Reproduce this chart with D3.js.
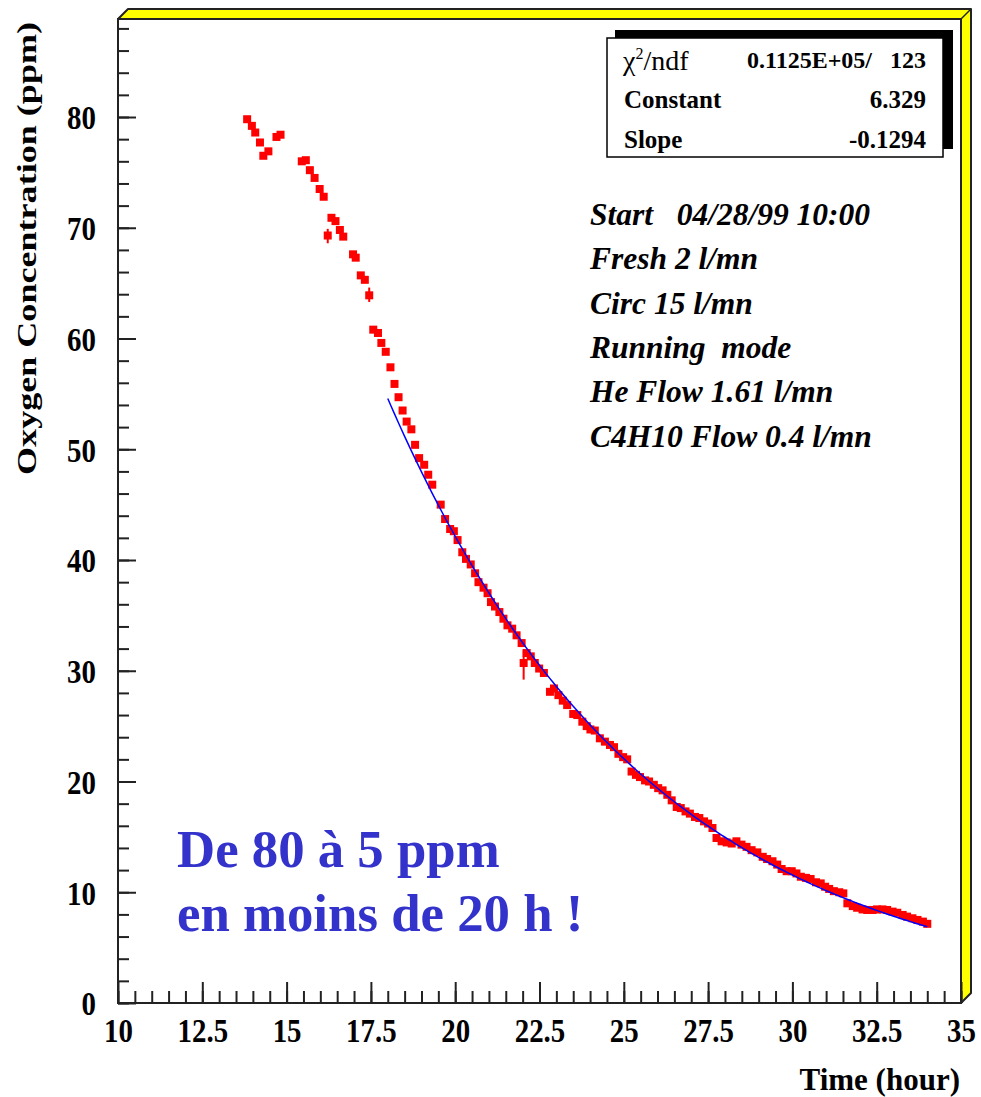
<!DOCTYPE html>
<html>
<head>
<meta charset="utf-8">
<script src="https://cdn.jsdelivr.net/npm/d3@7"></script>
<style>
  body { margin: 0; background: #fff; }
  svg text { font-family: "Liberation Serif", "Times New Roman", serif; }
</style>
</head>
<body>
<div id="chart"></div>
<script>
/*
Data
*/
var timeHours = [
  13.83, 13.97, 14.07, 14.21, 14.31, 14.46, 14.70, 14.82, 15.45, 15.57,
  15.69, 15.83, 15.98, 16.10, 16.22, 16.33, 16.45, 16.58, 16.68, 16.97,
  17.05, 17.20, 17.32, 17.45, 17.57, 17.71, 17.81, 17.94, 18.08, 18.20,
  18.32, 18.44, 18.56, 18.70, 18.81, 18.93, 19.08, 19.20, 19.32, 19.57,
  19.70, 19.85, 19.96, 20.07, 20.21, 20.32, 20.46, 20.59, 20.69, 20.84,
  20.96, 21.06, 21.18, 21.31, 21.43, 21.55, 21.69, 21.82, 21.97, 22.03,
  22.12, 22.24, 22.36, 22.49, 22.63, 22.81, 22.93, 23.06, 23.19, 23.32,
  23.50, 23.62, 23.77, 23.90, 24.01, 24.14, 24.29, 24.44, 24.59, 24.71,
  24.84, 24.98, 25.10, 25.23, 25.36, 25.48, 25.63, 25.75, 25.89, 26.02,
  26.15, 26.29, 26.42, 26.57, 26.69, 26.83, 26.96, 27.11, 27.24, 27.38,
  27.50, 27.63, 27.75, 27.90, 28.05, 28.20, 28.34, 28.49, 28.64, 28.79,
  28.96, 29.12, 29.25, 29.41, 29.55, 29.68, 29.83, 29.98, 30.12, 30.25,
  30.40, 30.54, 30.70, 30.84, 30.97, 31.09, 31.23, 31.39, 31.51, 31.63,
  31.79, 31.92, 32.08, 32.22, 32.38, 32.51, 32.67, 32.81, 32.97, 33.11,
  33.27, 33.40, 33.56, 33.71, 33.87, 34.00
];
var oxygenPpm = [
  79.8, 79.2, 78.6, 77.7, 76.5, 76.9, 78.2, 78.4, 76.0, 76.1,
  75.2, 74.5, 73.5, 72.8, 69.3, 70.9, 70.6, 69.8, 69.2, 67.6,
  67.3, 65.7, 65.3, 63.9, 60.8, 60.5, 59.6, 58.8, 57.4, 55.9,
  54.7, 53.5, 52.5, 51.8, 50.4, 49.2, 48.6, 47.7, 46.8, 45.0,
  43.7, 42.8, 42.6, 41.8, 40.7, 40.1, 39.6, 38.8, 38.0, 37.5,
  37.0, 36.2, 35.8, 35.3, 34.7, 34.1, 33.8, 33.2, 32.5, 30.7,
  31.6, 31.3, 30.7, 30.2, 29.8, 28.1, 28.4, 27.8, 27.3, 26.9,
  26.1, 26.0, 25.4, 25.0, 24.7, 24.6, 23.9, 23.6, 23.3, 23.1,
  22.5, 22.2, 22.0, 20.9, 20.6, 20.4, 20.1, 20.0, 19.7, 19.4,
  19.2, 18.8, 18.3, 17.7, 17.6, 17.3, 17.1, 16.8, 16.7, 16.4,
  16.2, 15.8, 14.9, 14.6, 14.5, 14.4, 14.6, 14.3, 14.1, 13.8,
  13.6, 13.2, 13.0, 12.8, 12.5, 12.1, 11.9, 11.9, 11.7, 11.4,
  11.3, 11.2, 10.9, 10.8, 10.5, 10.3, 10.1, 10.0, 9.9, 9.0,
  8.75, 8.6, 8.45, 8.4, 8.4, 8.45, 8.45, 8.4, 8.25, 8.15,
  7.95, 7.8, 7.65, 7.5, 7.35, 7.15
];
// the few points whose error bar sticks out of the marker: [time, low, high]
var errorBars = [
  [16.22, 68.6, 69.9],
  [17.45, 63.3, 64.6],
  [22.03, 29.2, 31.9]
];

// exponential fit exp(constant + slope * t) over the fit range
var fitConstant = 6.329;
var fitSlope = -0.1294;
var fitRange = [18, 34];
var fitStats = [
  ["Constant", "6.329"],
  ["Slope", "-0.1294"]
];
var chi2Text = "0.1125E+05/   123";

var infoLines = [
  "Start   04/28/99 10:00",
  "Fresh 2 l/mn",
  "Circ 15 l/mn",
  "Running  mode",
  "He Flow 1.61 l/mn",
  "C4H10 Flow 0.4 l/mn"
];
var noteLines = ["De 80 à 5 ppm", "en moins de 20 h !"];

var xMajorTicks = [10, 12.5, 15, 17.5, 20, 22.5, 25, 27.5, 30, 32.5, 35];
var yMajorTicks = [0, 10, 20, 30, 40, 50, 60, 70, 80];

/*
Layout
*/
var W = 981, H = 1097;
var frame = { left: 118, right: 961, top: 19, bottom: 1003 };
var depth = 10; // yellow 3d edge
var markerSize = 8;

var svg = d3.select("#chart").append("svg")
  .attr("width", W)
  .attr("height", H);

svg.append("rect").attr("width", W).attr("height", H).attr("fill", "#fff");

var xScale = d3.scaleLinear().domain([10, 35]).range([frame.left, frame.right]);
var yScale = d3.scaleLinear().domain([0, 88.85]).range([frame.bottom, frame.top]);

/*
Frame with yellow 3d edge
*/
svg.append("polygon")
  .attr("points", [
    [frame.left, frame.top],
    [frame.left + depth, frame.top - depth],
    [frame.right + depth, frame.top - depth],
    [frame.right + depth, frame.bottom - depth],
    [frame.right, frame.bottom],
    [frame.right, frame.top]
  ].map(function (p) { return p.join(","); }).join(" "))
  .attr("fill", "#ffff00")
  .attr("stroke", "#222")
  .attr("stroke-width", 2)
  .attr("stroke-linejoin", "round");

svg.append("line")
  .attr("x1", frame.right).attr("y1", frame.top)
  .attr("x2", frame.right + depth).attr("y2", frame.top - depth)
  .attr("stroke", "#222").attr("stroke-width", 1.5);

svg.append("rect")
  .attr("x", frame.left).attr("y", frame.top)
  .attr("width", frame.right - frame.left)
  .attr("height", frame.bottom - frame.top)
  .attr("fill", "#fff")
  .attr("stroke", "#222")
  .attr("stroke-width", 2);

/*
Axes, ticks pointing into the frame
*/
var xMinor = d3.range(10, 35.01, 0.5);
var yMinor = d3.range(0, 88.1, 2);

svg.append("g")
  .attr("transform", "translate(0," + frame.bottom + ")")
  .call(d3.axisBottom(xScale).tickValues(xMinor).tickSize(-12).tickFormat(""))
  .call(styleAxis);

var gX = svg.append("g")
  .attr("transform", "translate(0," + frame.bottom + ")")
  .call(d3.axisBottom(xScale).tickValues(xMajorTicks).tickSize(-21).tickPadding(0)
    .tickFormat(function (d) { return String(d); }))
  .call(styleAxis);

gX.selectAll("text")
  .attr("y", 39)
  .attr("dy", 0)
  .attr("font-size", 34)
  .attr("font-weight", "bold")
  .attr("transform", "scale(0.85,1)");

svg.append("g")
  .attr("transform", "translate(" + frame.left + ",0)")
  .call(d3.axisLeft(yScale).tickValues(yMinor).tickSize(-11).tickFormat(""))
  .call(styleAxis);

var gY = svg.append("g")
  .attr("transform", "translate(" + frame.left + ",0)")
  .call(d3.axisLeft(yScale).tickValues(yMajorTicks).tickSize(-18).tickPadding(0)
    .tickFormat(function (d) { return String(d); }))
  .call(styleAxis);

gY.selectAll("text")
  .attr("x", -22 / 0.85)
  .attr("dy", "0.35em")
  .attr("font-size", 34)
  .attr("font-weight", "bold")
  .attr("transform", "scale(0.85,1)");

function styleAxis(g) {
  g.select(".domain").remove();
  g.selectAll("line").attr("stroke", "#222").attr("stroke-width", 2);
  g.selectAll("text").attr("fill", "#000").attr("font-family", "Liberation Serif");
}

// axis titles
svg.append("text")
  .attr("x", 960).attr("y", 1090)
  .attr("text-anchor", "end")
  .attr("font-size", 31)
  .attr("font-weight", "bold")
  .text("Time (hour)");

svg.append("text")
  .attr("transform", "translate(36,22) rotate(-90)")
  .attr("text-anchor", "end")
  .attr("font-size", 28)
  .attr("font-weight", "bold")
  .attr("textLength", 453)
  .attr("lengthAdjust", "spacingAndGlyphs")
  .text("Oxygen Concentration (ppm)");

/*
Fit curve
*/
var fitPoints = d3.range(fitRange[0], fitRange[1] + 0.001, 0.1).map(function (t) {
  return [t, Math.exp(fitConstant + fitSlope * t)];
});

/*
Data markers
*/
var data = timeHours.map(function (t, i) { return { t: t, v: oxygenPpm[i] }; });

svg.append("g")
  .selectAll("line")
  .data(errorBars)
  .enter()
  .append("line")
  .attr("x1", function (d) { return xScale(d[0]); })
  .attr("x2", function (d) { return xScale(d[0]); })
  .attr("y1", function (d) { return yScale(d[1]); })
  .attr("y2", function (d) { return yScale(d[2]); })
  .attr("stroke", "#ff0000")
  .attr("stroke-width", 2);

svg.append("g")
  .selectAll("rect")
  .data(data)
  .enter()
  .append("rect")
  .attr("x", function (d) { return xScale(d.t) - markerSize / 2; })
  .attr("y", function (d) { return yScale(d.v) - markerSize / 2; })
  .attr("width", markerSize)
  .attr("height", markerSize)
  .attr("fill", "#ff0000");

svg.append("path")
  .datum(fitPoints)
  .attr("fill", "none")
  .attr("stroke", "#0000ff")
  .attr("stroke-width", 1.5)
  .attr("d", d3.line()
    .x(function (d) { return xScale(d[0]); })
    .y(function (d) { return yScale(d[1]); }));

/*
Stats box (black shadow up-right)
*/
var box = { x: 607, y: 38, w: 336, h: 119 };
svg.append("rect")
  .attr("x", box.x + 8).attr("y", box.y - 8)
  .attr("width", box.w + 2).attr("height", box.h - 0)
  .attr("fill", "#000");
svg.append("rect")
  .attr("x", box.x).attr("y", box.y)
  .attr("width", box.w).attr("height", box.h)
  .attr("fill", "#fff")
  .attr("stroke", "#000")
  .attr("stroke-width", 1.5);

var chiLabel = svg.append("text")
  .attr("x", 623).attr("y", 70)
  .attr("font-family", "Liberation Sans")
  .attr("font-size", 28);
chiLabel.append("tspan").text("χ");
chiLabel.append("tspan").attr("dy", -11).attr("font-size", 16).text("2");
chiLabel.append("tspan").attr("dy", 11).text("/ndf");

svg.append("text")
  .attr("x", 926).attr("y", 68)
  .attr("text-anchor", "end")
  .attr("font-size", 24)
  .attr("font-weight", "bold")
  .style("white-space", "pre")
  .text(chi2Text);

fitStats.forEach(function (row, i) {
  svg.append("text")
    .attr("x", 624).attr("y", 108 + i * 40)
    .attr("font-size", 25)
    .attr("font-weight", "bold")
    .text(row[0]);
  svg.append("text")
    .attr("x", 926).attr("y", 108 + i * 40)
    .attr("text-anchor", "end")
    .attr("font-size", 25)
    .attr("font-weight", "bold")
    .text(row[1]);
});

/*
Run conditions
*/
svg.append("g")
  .selectAll("text")
  .data(infoLines)
  .enter()
  .append("text")
  .attr("x", 590)
  .attr("y", function (d, i) { return 225 + i * 44.3; })
  .attr("font-size", 31.5)
  .attr("font-weight", "bold")
  .attr("font-style", "italic")
  .style("white-space", "pre")
  .text(function (d) { return d; });

// blue comment
svg.append("g")
  .selectAll("text")
  .data(noteLines)
  .enter()
  .append("text")
  .attr("x", 177)
  .attr("y", function (d, i) { return 867 + i * 64; })
  .attr("font-size", 52.8)
  .attr("font-weight", "bold")
  .attr("fill", "#3333cc")
  .text(function (d) { return d; });
</script>
</body>
</html>
